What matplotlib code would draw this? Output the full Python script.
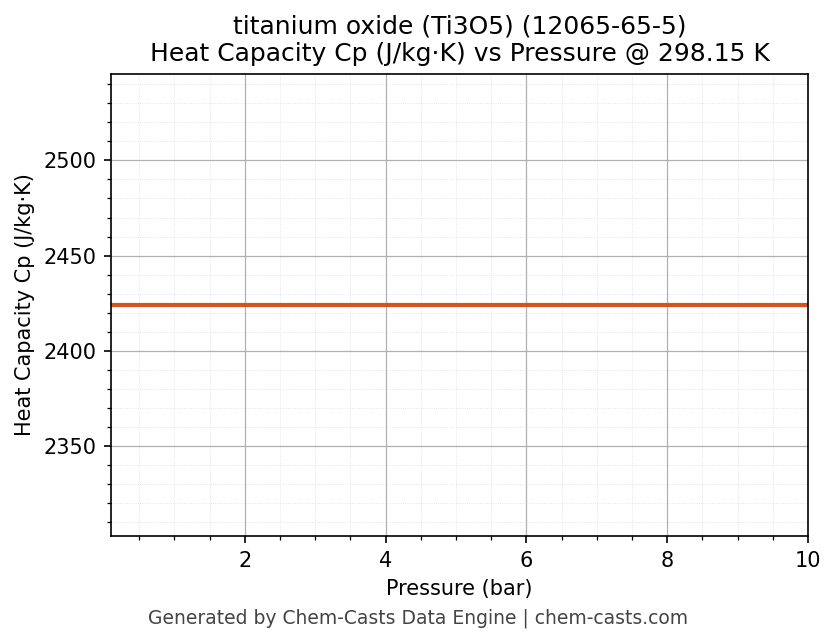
import matplotlib
matplotlib.use("Agg")
import matplotlib.pyplot as plt
import numpy as np

# data
pressure = [0.1, 1, 2, 3, 4, 5, 6, 7, 8, 9, 10]
cp = [2424.1] * len(pressure)

fig = plt.figure(figsize=(836 / 150, 644 / 150), dpi=150)
ax = fig.add_axes([111 / 836, 1 - 536 / 644, (808 - 111) / 836, (536 - 74) / 644])

ax.plot(pressure, cp, color="#d4531f", linewidth=2)
ax.set_xlim(0.1, 10)
ax.set_ylim(cp[0] * 0.95, cp[0] * 1.05)
ax.minorticks_on()
ax.grid(which="major", color="#b0b0b0", linewidth=0.6)
ax.grid(which="minor", color="#dddddd", linewidth=0.4, linestyle=":")

ax.set_xlabel("Pressure (bar)")
ax.set_ylabel("Heat Capacity Cp (J/kg·K)")
ax.set_title("titanium oxide (Ti3O5) (12065-65-5)\nHeat Capacity Cp (J/kg·K) vs Pressure @ 298.15 K", fontsize=12)
fig.text(0.5, 0.04, "Generated by Chem-Casts Data Engine | chem-casts.com",
         ha="center", va="center", fontsize=9, color="#444444")

fig.savefig("out.png", dpi=150)
